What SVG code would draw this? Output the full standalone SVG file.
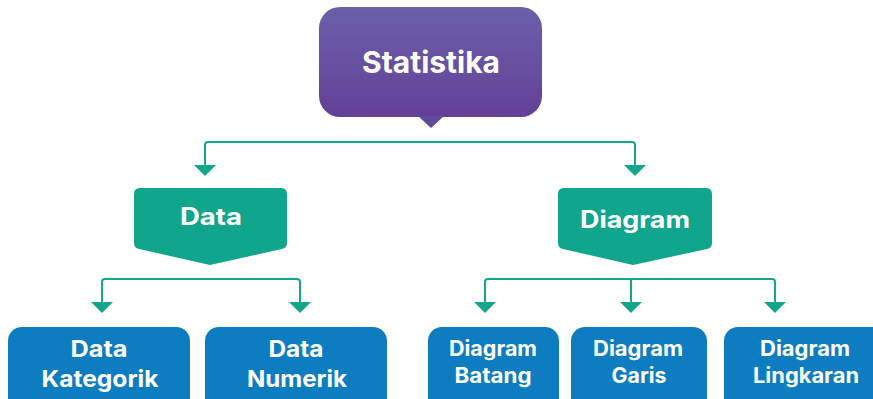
<svg xmlns="http://www.w3.org/2000/svg" width="873" height="399" viewBox="0 0 873 399">
<defs>
<linearGradient id="gPurple" x1="0" y1="0" x2="0" y2="1">
<stop offset="0" stop-color="#6a5fa9"/>
<stop offset="0.6" stop-color="#674e9f"/>
<stop offset="1" stop-color="#633f96"/>
</linearGradient>
<marker id="arr" markerUnits="userSpaceOnUse" markerWidth="12" markerHeight="24" refX="0" refY="11" viewBox="0 0 12 22" orient="auto" overflow="visible">
<path d="M0,0 L11,11 L0,22 Z" fill="#13a68b"/>
</marker>
</defs>
<style>
.conn{fill:none;stroke:#13a68b;stroke-width:2;marker-end:url(#arr);}
.teal{fill:#10a68d;}
.blue{fill:#0e7cc1;}
text{font-family:Inter,"Open Sans","Liberation Sans",sans-serif;fill:#ffffff;text-anchor:middle;font-weight:700;}
.t1{font-size:30px;}
.t2{font-size:24px;}
.t3{font-size:23px;}
.t4{font-size:21px;}
</style>
<g id="connectors">
<path class="conn" d="M420,142 L208,142 Q205,142 205,145 L205,165"/>
<path class="conn" d="M420,142 L632,142 Q635,142 635,145 L635,165"/>
<path class="conn" d="M201,279 L105,279 Q102,279 102,282 L102,302"/>
<path class="conn" d="M201,279 L297,279 Q300,279 300,282 L300,302"/>
<path class="conn" d="M631,279 L488,279 Q485,279 485,282 L485,302"/>
<path class="conn" d="M631,279 L631,302"/>
<path class="conn" d="M631,279 L772,279 Q775,279 775,282 L775,302"/>
</g>
<g id="node-statistika">
<rect x="319" y="7" width="223" height="110" rx="21" fill="url(#gPurple)"/>
<path d="M418,116 L444,116 L431,128 Z" fill="#5f4a9b"/>
<text class="t1" x="431" y="73" textLength="138" lengthAdjust="spacingAndGlyphs">Statistika</text>
</g>
<g id="node-data">
<path class="teal" d="M140,188 L281,188 Q287,188 287,194 L287,243 Q287,248 282,249 L210,265 L139,249 Q134,248 134,243 L134,194 Q134,188 140,188 Z"/>
<text class="t2" x="211" y="225" textLength="62" lengthAdjust="spacingAndGlyphs">Data</text>
</g>
<g id="node-diagram">
<path class="teal" d="M564,188 L706,188 Q712,188 712,194 L712,243 Q712,248 707,249 L633,265 L563,249 Q558,248 558,243 L558,194 Q558,188 564,188 Z"/>
<text class="t2" x="635" y="228" textLength="110" lengthAdjust="spacingAndGlyphs">Diagram</text>
</g>
<g id="node-data-kategorik">
<rect class="blue" x="8" y="327" width="182" height="100" rx="14"/>
<text class="t3" x="99" y="357" textLength="57" lengthAdjust="spacingAndGlyphs">Data</text>
<text class="t3" x="100" y="387" textLength="117" lengthAdjust="spacingAndGlyphs">Kategorik</text>
</g>
<g id="node-data-numerik">
<rect class="blue" x="205" y="327" width="182" height="100" rx="14"/>
<text class="t3" x="296" y="357" textLength="55" lengthAdjust="spacingAndGlyphs">Data</text>
<text class="t3" x="297" y="387" textLength="100" lengthAdjust="spacingAndGlyphs">Numerik</text>
</g>
<g id="node-diagram-batang">
<rect class="blue" x="428" y="327" width="131" height="100" rx="14"/>
<text class="t4" x="493" y="356" textLength="88" lengthAdjust="spacingAndGlyphs">Diagram</text>
<text class="t4" x="493" y="383" textLength="77" lengthAdjust="spacingAndGlyphs">Batang</text>
</g>
<g id="node-diagram-garis">
<rect class="blue" x="571" y="327" width="136" height="100" rx="14"/>
<text class="t4" x="638" y="356" textLength="90" lengthAdjust="spacingAndGlyphs">Diagram</text>
<text class="t4" x="639" y="383" textLength="55" lengthAdjust="spacingAndGlyphs">Garis</text>
</g>
<g id="node-diagram-lingkaran">
<rect class="blue" x="724" y="327" width="162" height="100" rx="14"/>
<text class="t4" x="805" y="356" textLength="90" lengthAdjust="spacingAndGlyphs">Diagram</text>
<text class="t4" x="806" y="383" textLength="106" lengthAdjust="spacingAndGlyphs">Lingkaran</text>
</g>
</svg>
